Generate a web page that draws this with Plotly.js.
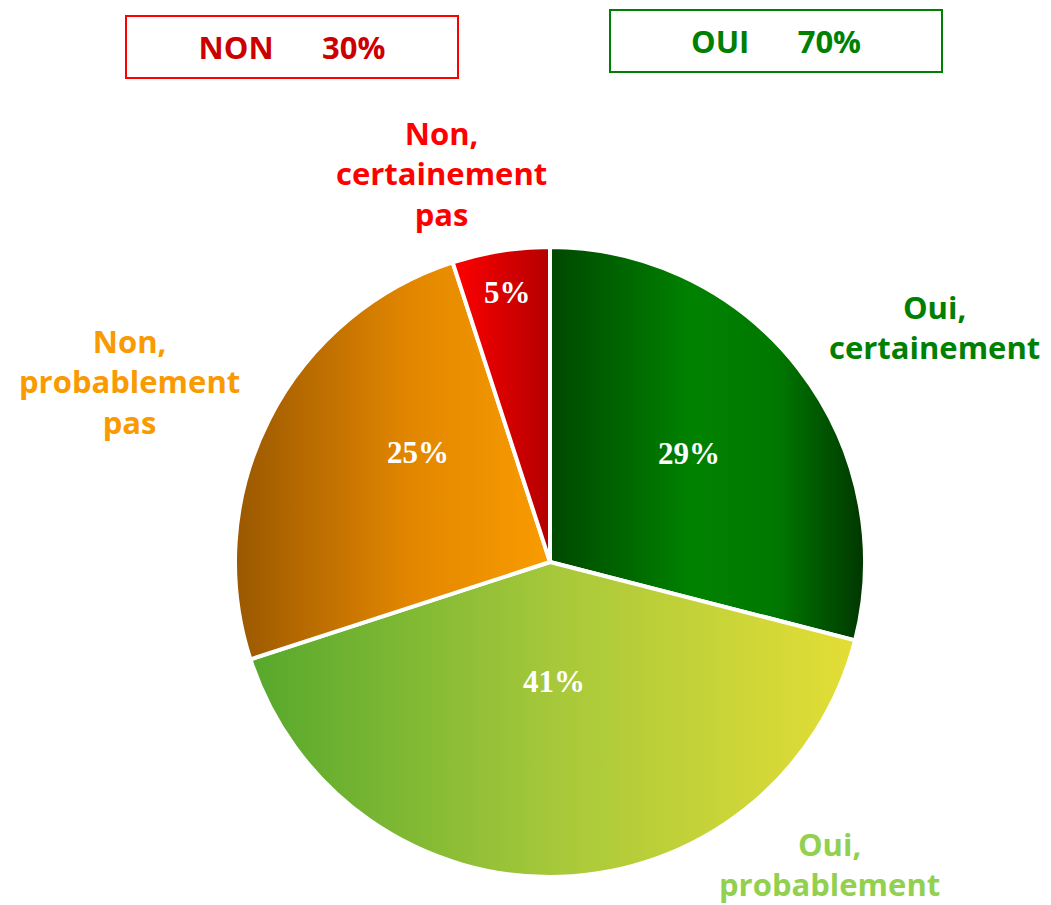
<!DOCTYPE html>
<html><head><meta charset="utf-8">
<script src="https://cdn.plot.ly/plotly-3.0.1.min.js"></script>
<style>html,body{margin:0;padding:0;background:#fff}</style>
</head><body><div id="chart" style="width:1051px;height:905px"></div>
<script>
const categories = ['Oui, certainement','Oui, probablement','Non, probablement pas','Non, certainement pas'];
const labelLines = ['Oui,<br>certainement','Oui,<br>probablement','Non,<br>probablement<br>pas','Non,<br>certainement<br>pas'];
const values = [29, 41, 25, 5];
const summaryLabels = ['NON', 'OUI'];
const summaryValues = [30, 70];

const sliceColors = ['#007000', '#a8c83a', '#e08600', '#e00000'];
const labelColors = ['#008000', '#92d050', '#f99a00', '#ff0000'];
const gradients = [
  [[0, '#004800'], [0.45, '#008200'], [0.72, '#007800'], [1, '#003600']],
  [[0, '#56a82c'], [0.5, '#a6c83a'], [1, '#e4de36']],
  [[0, '#9a5800'], [0.55, '#e28600'], [1, '#f99c00']],
  [[0, '#ff0000'], [1, '#b40000']]
];
const labelFont = 'Open Sans, DejaVu Sans, sans-serif';
// placement of the in-slice percentages: fraction of radius and fraction across the slice (style only)
const insideRadius = [0.56, 0.38, 0.545, 0.867];
const insideAngleFrac = [0.5, 0.5, 0.64, 0.5];

const W = 1051, H = 905;
const px = x => x / W, py = y => 1 - y / H;
const pie = {cx: 550, cy: 562, r: 315};

const labelPos = [[934, 327], [829, 864], [129, 381], [441, 173]];
const annotations = categories.map((c, i) => ({
  x: px(labelPos[i][0]), y: py(labelPos[i][1]), xref: 'paper', yref: 'paper',
  text: labelLines[i], showarrow: false, xanchor: 'center', yanchor: 'middle', align: 'center',
  font: {family: labelFont, size: 31, color: labelColors[i], weight: 'bold'}
}));

// percentages inside the slices, placed from the slice angles derived from the values
const total = values.reduce((a, b) => a + b, 0);
let cum = 0;
values.forEach((v, i) => {
  const ang = (cum + v * insideAngleFrac[i]) / total * 2 * Math.PI;
  cum += v;
  const rr = pie.r * insideRadius[i];
  annotations.push({
    x: px(pie.cx + rr * Math.sin(ang)), y: py(pie.cy - rr * Math.cos(ang)),
    xref: 'paper', yref: 'paper', text: v + '%', showarrow: false,
    xanchor: 'center', yanchor: 'middle',
    font: {family: 'Liberation Serif, Times New Roman, serif', size: 31, color: '#ffffff', weight: 'bold'}
  });
});

const boxPos = [[292, 47, '#ff0000', '#cc0000'], [776, 41, '#008000', '#008000']];
summaryLabels.forEach((s, i) => {
  annotations.push({
    x: px(boxPos[i][0]), y: py(boxPos[i][1]), xref: 'paper', yref: 'paper',
    text: s + '&nbsp;&nbsp;&nbsp;&nbsp;&nbsp;&nbsp;' + summaryValues[i] + '%', showarrow: false,
    xanchor: 'center', yanchor: 'middle', width: 328, height: 58,
    bordercolor: boxPos[i][2], borderwidth: 2, borderpad: 1,
    font: {family: labelFont, size: 31, color: boxPos[i][3], weight: 'bold'}
  });
});

const trace = {
  type: 'pie', labels: categories, values: values, sort: false,
  direction: 'clockwise', rotation: 0,
  marker: {colors: sliceColors, line: {color: '#ffffff', width: 4}},
  textinfo: 'none', textposition: 'none',
  domain: {x: [px(pie.cx - pie.r), px(pie.cx + pie.r)], y: [py(pie.cy + pie.r), py(pie.cy - pie.r)]},
  hoverinfo: 'label+percent', showlegend: false
};

const layout = {
  width: W, height: H, margin: {l: 0, r: 0, t: 0, b: 0},
  paper_bgcolor: '#ffffff', plot_bgcolor: '#ffffff',
  showlegend: false, annotations: annotations
};

Plotly.newPlot('chart', [trace], layout, {displayModeBar: false, staticPlot: true}).then(gd => {
  const svg = gd.querySelector('svg.main-svg');
  const NS = 'http://www.w3.org/2000/svg';
  let defs = svg.querySelector('defs');
  if (!defs) { defs = document.createElementNS(NS, 'defs'); svg.insertBefore(defs, svg.firstChild); }
  gradients.forEach((stops, i) => {
    const g = document.createElementNS(NS, 'linearGradient');
    g.setAttribute('id', 'sliceGrad' + i);
    g.setAttribute('x1', '0'); g.setAttribute('y1', '0');
    g.setAttribute('x2', '1'); g.setAttribute('y2', '0');
    stops.forEach(s => {
      const st = document.createElementNS(NS, 'stop');
      st.setAttribute('offset', s[0]); st.setAttribute('stop-color', s[1]);
      g.appendChild(st);
    });
    defs.appendChild(g);
  });
  gd.querySelectorAll('g.slice path.surface').forEach((p, i) => {
    p.style.fill = 'url(#sliceGrad' + i + ')';
  });
});
</script>
</body></html>
